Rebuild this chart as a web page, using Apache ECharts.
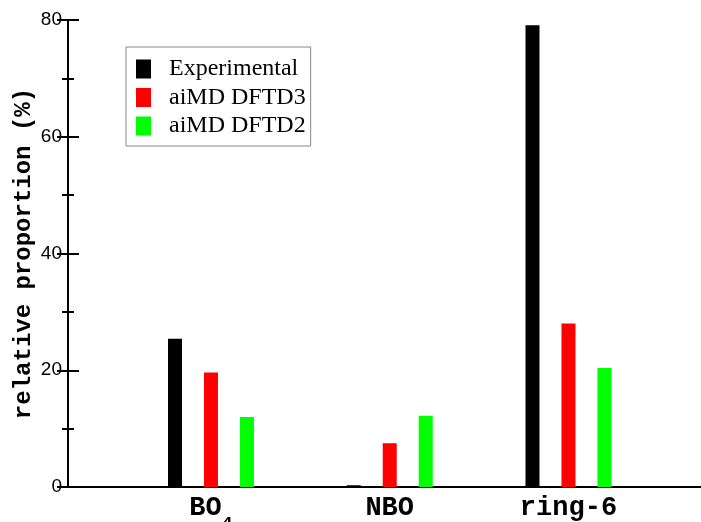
<!DOCTYPE html>
<html>
<head>
<meta charset="utf-8">
<script src="https://cdn.jsdelivr.net/npm/echarts@6/dist/echarts.min.js"></script>
<style>
html,body{margin:0;padding:0;background:#fff;}
#chart{width:701px;height:522px;}
</style>
</head>
<body>
<div id="chart"></div>
<script>
const categories = ['BO4', 'NBO', 'ring-6'];
const seriesNames = ['Experimental', 'aiMD DFTD3', 'aiMD DFTD2'];
const experimental = [25.4, 0.3, 79.1];
const dftd3 = [19.6, 7.5, 28.0];
const dftd2 = [12.0, 12.2, 20.4];
const yTicks = [0, 20, 40, 60, 80];
const colors = ['#000000', '#ff0000', '#00ff00'];

const chart = echarts.init(document.getElementById('chart'), null, {renderer: 'canvas'});
const frameAxis = {
  axisLine: {show: true, lineStyle: {color: '#000', width: 2}},
  splitLine: {show: false}
};
const option = {
  backgroundColor: '#fff',
  animation: false,
  grid: [
    {left: 121.6, right: 43.15, top: 20, bottom: 35, containLabel: false, outerBoundsMode: 'none'},
    {left: 68, right: -7, top: 20, bottom: 35, containLabel: false, outerBoundsMode: 'none'}
  ],
  legend: {
    orient: 'vertical',
    left: 126, top: 47,
    icon: 'rect',
    itemWidth: 15, itemHeight: 19, itemGap: 4.5,
    padding: [10, 5, 8, 10],
    borderColor: '#888', borderWidth: 1,
    textStyle: {fontFamily: 'Liberation Serif', fontSize: 24, color: '#000', lineHeight: 19, padding: [0, 0, 0, 13]},
    data: seriesNames
  },
  xAxis: [
    {
      type: 'category', gridIndex: 0, data: categories,
      axisLine: {show: false}, axisTick: {show: false}, splitLine: {show: false},
      axisLabel: {
        interval: 0, hideOverlap: false,
        margin: 8, color: '#000', fontFamily: 'Liberation Mono', fontWeight: 'bold', fontSize: 27,
        formatter: v => v === 'BO4' ? '{m|BO}{sub|4}' : '{m|' + v + '}',
        rich: {
          m: {fontFamily: 'Liberation Mono', fontWeight: 'bold', fontSize: 27, color: '#000', verticalAlign: 'top', lineHeight: 27},
          sub: {fontFamily: 'Liberation Mono', fontWeight: 'bold', fontSize: 18, color: '#000', verticalAlign: 'top', lineHeight: 18, padding: [20, 0, 0, 0]}
        }
      }
    },
    Object.assign({type: 'value', gridIndex: 1, position: 'bottom', min: 0, max: 1, axisTick: {show: false}, axisLabel: {show: false}}, frameAxis),
    Object.assign({type: 'value', gridIndex: 1, position: 'top', min: 0, max: 1, axisTick: {show: false}, axisLabel: {show: false}}, frameAxis)
  ],
  yAxis: [
    {type: 'value', gridIndex: 0, min: 0, max: 80, show: false},
    Object.assign({
      type: 'value', gridIndex: 1, position: 'left', min: yTicks[0], max: yTicks[yTicks.length - 1], interval: 20,
      axisTick: {show: true, inside: true, length: 11, lineStyle: {color: '#000', width: 2}},
      minorTick: {show: true, splitNumber: 2, length: 6, lineStyle: {color: '#000', width: 2}},
      axisLabel: {color: '#000', fontFamily: 'Liberation Sans', fontSize: 19, margin: 6},
      name: 'relative proportion (%)', nameLocation: 'middle', nameGap: 32, nameMoveOverlap: false,
      nameTextStyle: {fontFamily: 'Liberation Mono', fontWeight: 'bold', fontSize: 24, color: '#000'}
    }, frameAxis),
    Object.assign({
      type: 'value', gridIndex: 1, position: 'right', min: yTicks[0], max: yTicks[yTicks.length - 1], interval: 20,
      axisTick: {show: true, inside: true, length: 11, lineStyle: {color: '#000', width: 2}},
      minorTick: {show: true, splitNumber: 2, length: 6, lineStyle: {color: '#000', width: 2}},
      axisLabel: {show: false}
    }, frameAxis)
  ],
  series: [experimental, dftd3, dftd2].map((d, i) => ({
    name: seriesNames[i], type: 'bar', xAxisIndex: 0, yAxisIndex: 0,
    data: d, barWidth: 14, barGap: '157%',
    itemStyle: {color: colors[i]}
  }))
};
chart.setOption(option);
</script>
</body>
</html>
